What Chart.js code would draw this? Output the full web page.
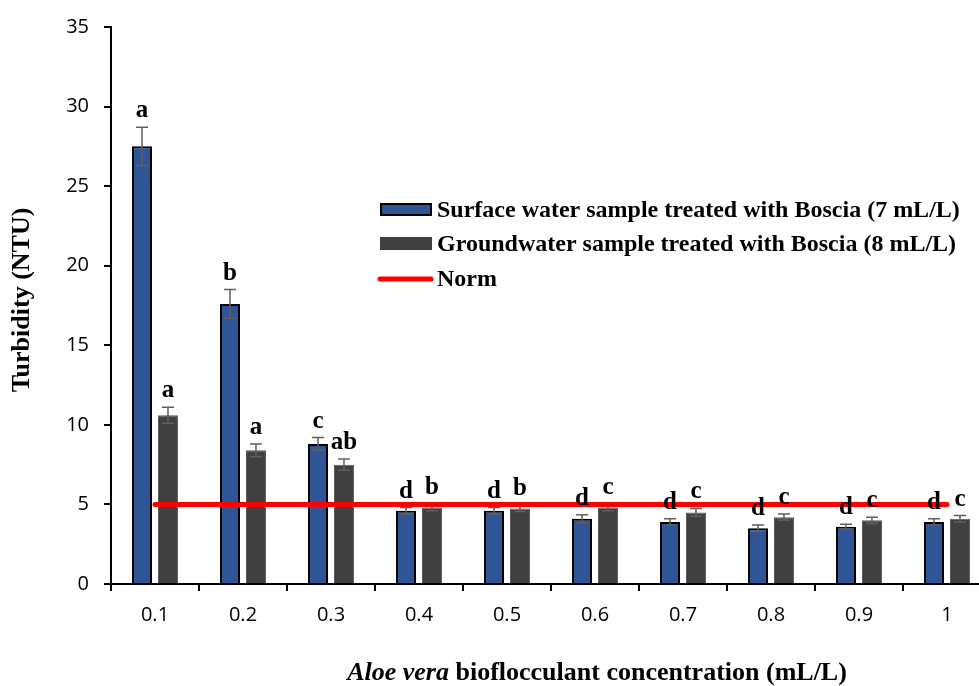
<!DOCTYPE html>
<html>
<head>
<meta charset="utf-8">
<script src="https://cdn.jsdelivr.net/npm/chart.js@4.4.0/dist/chart.umd.min.js"></script>
<style>
  html, body { margin: 0; padding: 0; background: #fff; overflow: hidden; }
  #wrap { width: 1000px; height: 686px; }
</style>
</head>
<body>
<div id="wrap"><canvas id="myChart" width="1000" height="686"></canvas></div>
<script>
// dane

const concentrations = ['0.1', '0.2', '0.3', '0.4', '0.5', '0.6', '0.7', '0.8', '0.9', '1'];

const surfaceTurbidity = [27.5, 17.6, 8.8, 4.6, 4.6, 4.1, 3.9, 3.5, 3.6, 3.9];
const surfaceError     = [1.2, 0.9, 0.4, 0.2, 0.2, 0.25, 0.2, 0.2, 0.15, 0.2];
const surfaceLetters   = ['a', 'b', 'c', 'd', 'd', 'd', 'd', 'd', 'd', 'd'];

const groundTurbidity  = [10.6, 8.4, 7.5, 4.8, 4.75, 4.8, 4.5, 4.2, 4.0, 4.1];
const groundError      = [0.5, 0.4, 0.35, 0.2, 0.2, 0.2, 0.25, 0.2, 0.2, 0.2];
const groundLetters    = ['a', 'a', 'ab', 'b', 'b', 'c', 'c', 'c', 'c', 'c'];

const normValues = [5, 5, 5, 5, 5, 5, 5, 5, 5, 5];

const yTicks = [0, 5, 10, 15, 20, 25, 30, 35];

const serif = '"Liberation Serif", "Times New Roman", serif';

// słupki błędów rysowane zaraz po każdym zbiorze słupków

const errorBars = {
  id: 'errorBars',
  afterDatasetDraw(chart, args) {
    const ds = chart.data.datasets[args.index];
    if (!ds.errors) return;
    const ctx = chart.ctx;
    const y = chart.scales.y;
    ctx.save();
    ctx.strokeStyle = '#5f5f5f';
    ctx.lineWidth = 1.5;
    args.meta.data.forEach((bar, i) => {
      const v = ds.data[i], e = ds.errors[i];
      const top = y.getPixelForValue(v + e);
      const bot = y.getPixelForValue(v - e);
      ctx.beginPath();
      ctx.moveTo(bar.x, top); ctx.lineTo(bar.x, bot);
      ctx.moveTo(bar.x - 6, top); ctx.lineTo(bar.x + 6, top);
      ctx.moveTo(bar.x - 6, bot); ctx.lineTo(bar.x + 6, bot);
      ctx.stroke();
    });
    ctx.restore();
  }
};

// literki, legenda i tytuły osi

const extras = {
  id: 'extras',
  afterDatasetsDraw(chart) {
    const ctx = chart.ctx;
    const y = chart.scales.y;
    ctx.save();
    ctx.fillStyle = '#000';
    ctx.font = 'bold 25px ' + serif;
    ctx.textAlign = 'center';
    ctx.textBaseline = 'alphabetic';
    chart.data.datasets.forEach((ds, di) => {
      if (!ds.letters) return;
      chart.getDatasetMeta(di).data.forEach((bar, i) => {
        const top = y.getPixelForValue(ds.data[i] + ds.errors[i]);
        ctx.fillText(ds.letters[i], bar.x, top - 10);
      });
    });

    // legenda
    const rows = [210, 244, 279];
    ctx.textAlign = 'left';
    ctx.textBaseline = 'middle';
    ctx.font = 'bold 24px ' + serif;
    chart.data.datasets.forEach((ds, di) => {
      const ry = rows[di];
      if (ds.type === 'line') {
        ctx.strokeStyle = ds.borderColor;
        ctx.lineWidth = 5;
        ctx.lineCap = 'round';
        ctx.beginPath();
        ctx.moveTo(380, ry); ctx.lineTo(431, ry);
        ctx.stroke();
      } else {
        ctx.fillStyle = ds.backgroundColor;
        ctx.fillRect(380, ry - 7, 52, 13);
        if (ds.borderColor === '#000000') {
          ctx.strokeStyle = '#000';
          ctx.lineWidth = 2;
          ctx.strokeRect(381, ry - 6, 50, 11);
        }
      }
      ctx.fillStyle = '#000';
      ctx.fillText(ds.label, 437, ry + 1);
    });

    // tytuł osi Y
    ctx.save();
    ctx.translate(22, 300);
    ctx.rotate(-Math.PI / 2);
    ctx.textAlign = 'center';
    ctx.font = 'bold 26px ' + serif;
    ctx.fillText('Turbidity (NTU)', 0, 0);
    ctx.restore();

    // tytuł osi X (kursywa + pogrubienie)
    const part1 = 'Aloe vera';
    const part2 = ' bioflocculant concentration (mL/L)';
    ctx.textBaseline = 'alphabetic';
    ctx.font = 'italic bold 26px ' + serif;
    const w1 = ctx.measureText(part1).width;
    ctx.font = 'bold 26px ' + serif;
    const w2 = ctx.measureText(part2).width;
    let x0 = 597 - (w1 + w2) / 2;
    ctx.font = 'italic bold 26px ' + serif;
    ctx.fillText(part1, x0, 680);
    ctx.font = 'bold 26px ' + serif;
    ctx.fillText(part2, x0 + w1, 680);
    ctx.restore();
  }
};

const ctx = document.getElementById('myChart');
const myChart = new Chart(ctx, {
  type: 'bar',
  data: {
    labels: concentrations,
    datasets: [
      {
        label: 'Surface water sample treated with Boscia (7 mL/L)',
        data: surfaceTurbidity,
        errors: surfaceError,
        letters: surfaceLetters,
        backgroundColor: '#2F5597',
        borderColor: '#000000',
        borderWidth: 2,
        categoryPercentage: 0.59,
        barPercentage: 0.77,
        order: 1
      },
      {
        label: 'Groundwater sample treated with Boscia (8 mL/L)',
        data: groundTurbidity,
        errors: groundError,
        letters: groundLetters,
        backgroundColor: '#404040',
        borderColor: '#5a5a5a',
        borderWidth: 1,
        categoryPercentage: 0.59,
        barPercentage: 0.77,
        order: 1
      },
      {
        type: 'line',
        label: 'Norm',
        data: normValues,
        borderColor: '#FF0000',
        borderWidth: 5,
        borderCapStyle: 'round',
        pointRadius: 0,
        fill: false,
        order: 0
      }
    ]
  },
  options: {
    responsive: false,
    animation: false,
    events: [],
    layout: { padding: { top: 23, right: 9, left: 0, bottom: 0 } },
    plugins: {
      legend: { display: false },
      tooltip: { enabled: false }
    },
    scales: {
      x: {
        afterFit(scale) { scale.height = 102; },
        border: { color: '#000', width: 2 },
        grid: {
          offset: true,
          drawOnChartArea: false,
          drawTicks: true,
          tickLength: 7,
          color: '#000',
          lineWidth: 2
        },
        ticks: {
          color: '#000',
          padding: 12,
          font: { family: '"Open Sans", sans-serif', size: 20 }
        }
      },
      y: {
        min: 0,
        max: 35,
        afterFit(scale) { scale.width = 111; },
        afterBuildTicks(scale) { scale.ticks = yTicks.map(v => ({ value: v })); },
        border: { color: '#000', width: 2 },
        grid: {
          drawOnChartArea: false,
          drawTicks: true,
          tickLength: 7,
          color: '#000',
          lineWidth: 2
        },
        ticks: {
          color: '#000',
          padding: 15,
          font: { family: '"Open Sans", sans-serif', size: 20 }
        }
      }
    }
  },
  plugins: [errorBars, extras]
});
</script>
</body>
</html>
